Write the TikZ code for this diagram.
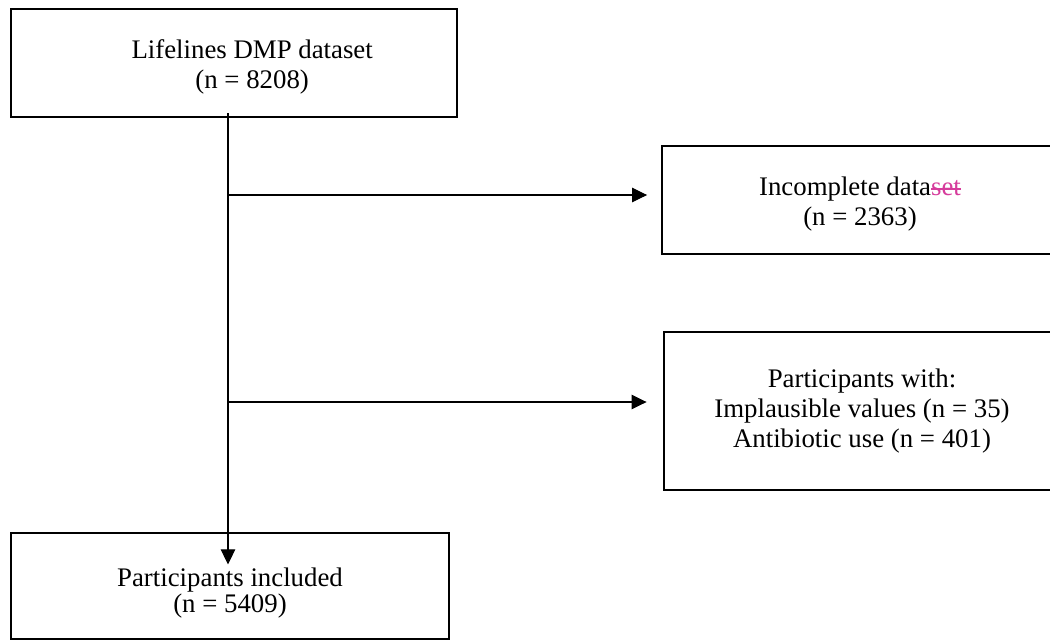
\documentclass[tikz,border=0pt]{standalone}
\usepackage{fontspec}
\setmainfont{Liberation Serif}
\usepackage{tikz}
\usetikzlibrary{arrows.meta,positioning,calc}
\usepackage{xcolor}
\definecolor{editpink}{HTML}{D63C9C}
\definecolor{framegray}{HTML}{000000}

% struck-out tracked edit
\newcommand{\editstrike}[1]{{\color{editpink}\setbox0\hbox{#1}\rlap{\rule[0.5ex]{\wd0}{0.6pt}}\box0}}

\begin{document}
\begin{tikzpicture}[
  x=0.44pt, y=-0.44pt,
  font=\fontsize{11.8pt}{13pt}\selectfont,
  >={Triangle[length=6.6pt, width=6.4pt]},
  flowbox/.style={
    draw=framegray,
    fill=white,
    line width=0.6pt,
    align=center,
    inner sep=0pt,
    minimum height=47.5pt
  },
  flowarrow/.style={
    ->,
    line width=0.45pt,
    draw=black
  }
]
  \useasboundingbox (0,0) rectangle (1050,641);

  % ---------------------------------------------------------------------------
  % BOXES
  % ---------------------------------------------------------------------------
  \node[flowbox, minimum width=196.2pt] (dmp) at (234, 63) {
    \rule{0pt}{11.7pt}\hspace*{16pt}Lifelines DMP dataset\\
    \hspace*{16pt}(n = 8208)
  };

  \node[flowbox, minimum width=174.2pt] (incomp) at (860, 200) {
    \rule{0pt}{11.7pt}Incomplete data\editstrike{set}\\
    (n = 2363)
  };

  \node[flowbox, minimum width=174.2pt, minimum height=69.5pt] (excl) at (862, 411) {
    Participants with:\\
    Implausible values (n = 35)\\
    Antibiotic use (n = 401)
  };

  \node[flowbox, minimum width=192.7pt, minimum height=46.6pt] (incl) at (230, 586) {
    \rule{0pt}{14.3pt}Participants included\\[-1.5pt]
    (n = 5409)
  };

  % ---------------------------------------------------------------------------
  % CONNECTORS
  % ---------------------------------------------------------------------------
  \coordinate (trunk) at (228, 113);
  \coordinate (split1) at (228, 195);
  \coordinate (split2) at (228, 402);

  \draw[flowarrow] (trunk) -- ($(trunk |- incl.north) + (0, 32)$);

  \draw[flowarrow, shorten >=6.3pt] (split1) -- (split1 -| incomp.west);
  \draw[flowarrow, shorten >=7.4pt] (split2) -- (split2 -| excl.west);

\end{tikzpicture}
\end{document}
